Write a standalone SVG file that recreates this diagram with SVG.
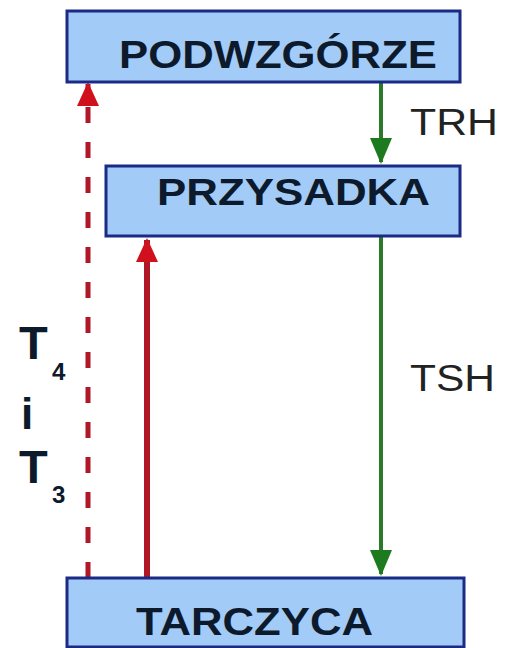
<svg xmlns="http://www.w3.org/2000/svg" width="508" height="648" viewBox="0 0 508 648">
<style>
.box{fill:#a3cbf7;stroke:#1b2a85;stroke-width:3}
.lbl{font-family:"Liberation Sans",Arial,sans-serif;font-weight:bold;fill:#0d1a2c}
.hl{font-family:"Liberation Sans",Arial,sans-serif;fill:#222}
.red{stroke:#b01828;fill:none}
.grn{stroke:#2a7a2a;fill:none;stroke-width:4}
</style>
<defs>
<marker id="ar" markerUnits="userSpaceOnUse" markerWidth="24" markerHeight="28" refX="22" refY="11" orient="auto"><path d="M0,0 L24,11 L0,22 Z" fill="#d0101c"/></marker>
<marker id="ag" markerUnits="userSpaceOnUse" markerWidth="26" markerHeight="24" refX="24" refY="11" orient="auto"><path d="M0,0 L26,11 L0,22 Z" fill="#1e7a1e"/></marker>
</defs>
<rect width="508" height="648" fill="#fff"/>
<g id="connectors">
<line class="red" x1="88" y1="578" x2="88" y2="84" stroke-width="5" stroke-dasharray="16 19" marker-end="url(#ar)"/>
<line class="red" x1="147" y1="578" x2="147" y2="240" stroke-width="6" marker-end="url(#ar)"/>
<line class="grn" x1="381" y1="83" x2="381" y2="162" marker-end="url(#ag)"/>
<line class="grn" x1="381" y1="237" x2="381" y2="574" marker-end="url(#ag)"/>
</g>
<g id="podwzgorze">
<rect class="box" x="67" y="11" width="393" height="71"/>
<text class="lbl" x="119" y="68" font-size="38" textLength="318" lengthAdjust="spacingAndGlyphs">PODWZGÓRZE</text>
</g>
<g id="przysadka">
<rect class="box" x="106" y="166" width="354" height="70"/>
<text class="lbl" x="157" y="205" font-size="37" textLength="273" lengthAdjust="spacingAndGlyphs">PRZYSADKA</text>
</g>
<g id="tarczyca">
<rect class="box" x="67" y="578" width="397" height="69"/>
<text class="lbl" x="136" y="635" font-size="38" textLength="237" lengthAdjust="spacingAndGlyphs">TARCZYCA</text>
</g>
<g id="labels">
<text class="hl" x="410" y="135" font-size="37" textLength="88" lengthAdjust="spacingAndGlyphs">TRH</text>
<text class="hl" x="410" y="391" font-size="37" textLength="85" lengthAdjust="spacingAndGlyphs">TSH</text>
<text class="lbl" x="19" y="359" font-size="47" fill="#000">T</text>
<text class="lbl" x="52" y="380" font-size="24" fill="#000">4</text>
<text class="lbl" x="21" y="429" font-size="44" fill="#000">i</text>
<text class="lbl" x="19" y="483" font-size="47" fill="#000">T</text>
<text class="lbl" x="52" y="503" font-size="24" fill="#000">3</text>
</g>
</svg>
